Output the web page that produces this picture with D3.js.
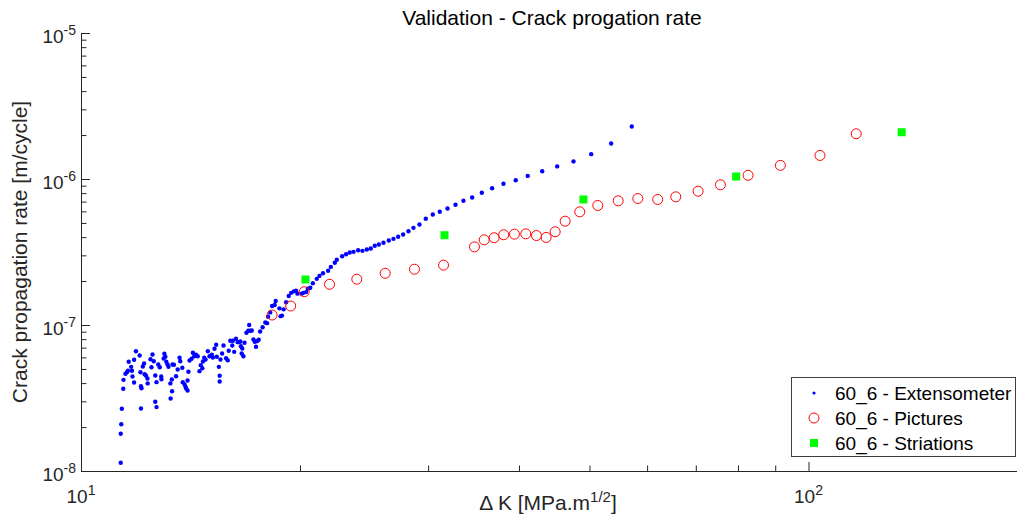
<!DOCTYPE html>
<html>
<head>
<meta charset="utf-8">
<script src="https://cdn.jsdelivr.net/npm/d3@7"></script>
<style>
    body { margin: 0; background: #fff; }
    text { font-family: "Liberation Sans", Arial, sans-serif; fill: #262626; }
</style>
</head>
<body>
<div id="graph"></div>
<script>

// 60_6 - Extensometer
let extDK = [11.34, 11.34, 11.36, 11.38, 11.43, 11.44, 11.51, 11.56, 11.60, 11.63,
    11.72, 11.75, 11.77, 11.83, 11.83, 11.90, 12.04, 12.07, 12.09, 12.11,
    12.09, 12.16, 12.21, 12.23, 12.28, 12.34, 12.35, 12.46, 12.50, 12.54,
    12.59, 12.65, 12.70, 12.65, 12.70, 12.77, 12.83, 12.89, 12.90, 12.99,
    13.02, 13.06, 13.10, 13.15, 13.19, 13.27, 13.33, 13.34, 13.28, 13.36,
    13.42, 13.51, 13.58, 13.66, 13.69, 13.78, 13.80, 13.88, 13.92, 13.95,
    14.01, 14.01, 14.05, 14.10, 14.19, 14.25, 14.31, 14.39, 14.47, 14.55,
    14.61, 14.68, 14.77, 14.83, 14.94, 14.71, 15.02, 15.13, 15.18, 15.26,
    15.34, 15.37, 15.47, 15.51, 15.51, 15.55, 15.63, 15.70, 15.83, 15.91,
    15.96, 16.04, 16.14, 16.17, 16.24, 16.33, 16.42, 16.48, 16.56, 16.59,
    16.63, 16.66, 16.72, 16.78, 16.88, 16.98, 17.03, 17.08, 17.17, 17.26,
    17.33, 17.40, 17.46, 17.55, 17.63, 17.77, 17.92, 18.02, 18.08, 18.20,
    18.31, 18.46, 18.52, 18.74, 18.81, 18.89, 18.99, 19.14, 19.30, 19.45,
    19.62, 19.75, 19.84, 20.10, 20.22, 20.39, 20.50, 20.66, 20.83, 21.09,
    21.27, 21.51, 21.86, 22.05, 22.33, 22.47, 22.85, 23.14, 23.41, 23.69,
    24.04, 24.37, 24.71, 25.02, 25.34, 25.67, 26.05, 26.49, 26.89, 27.29,
    27.72, 28.19, 28.64, 29.19, 29.78, 30.45, 31.13, 31.90, 32.72, 33.55,
    34.49, 35.56, 36.74, 38.08, 39.59, 41.12, 43.05, 45.14, 47.53, 50.27,
    53.55, 57.16];
let extRate = [1.14e-8, 1.80e-8, 2.09e-8, 2.67e-8, 3.66e-8, 4.21e-8, 4.63e-8, 4.75e-8, 4.86e-8, 5.60e-8,
    5.17e-8, 4.86e-8, 4.44e-8, 4.04e-8, 5.78e-8, 6.61e-8, 6.18e-8, 4.75e-8, 3.81e-8, 3.69e-8,
    2.68e-8, 5.20e-8, 5.45e-8, 4.60e-8, 4.51e-8, 4.30e-8, 3.98e-8, 5.83e-8, 5.14e-8, 6.28e-8,
    5.65e-8, 4.51e-8, 4.06e-8, 2.98e-8, 2.74e-8, 5.36e-8, 5.14e-8, 4.44e-8, 4.25e-8, 5.90e-8,
    6.35e-8, 6.06e-8, 5.60e-8, 5.36e-8, 5.17e-8, 3.98e-8, 4.23e-8, 3.52e-8, 3.14e-8, 5.36e-8,
    5.34e-8, 4.46e-8, 4.96e-8, 5.96e-8, 5.65e-8, 5.09e-8, 4.06e-8, 3.91e-8, 3.77e-8, 3.67e-8,
    3.56e-8, 4.17e-8, 4.78e-8, 5.71e-8, 5.87e-8, 6.45e-8, 6.11e-8, 6.25e-8, 6.11e-8, 4.83e-8,
    5.31e-8, 5.06e-8, 5.96e-8, 5.80e-8, 6.61e-8, 5.62e-8, 6.11e-8, 6.25e-8, 5.99e-8, 6.87e-8,
    7.32e-8, 6.06e-8, 5.17e-8, 4.49e-8, 4.10e-8, 5.80e-8, 6.38e-8, 7.24e-8, 5.92e-8, 5.74e-8,
    6.66e-8, 7.80e-8, 7.24e-8, 7.80e-8, 6.55e-8, 8.05e-8, 7.63e-8, 7.63e-8, 7.71e-8, 7.16e-8,
    6.38e-8, 6.90e-8, 6.11e-8, 7.55e-8, 8.84e-8, 9.13e-8, 1.00e-7, 9.13e-8, 9.17e-8, 7.96e-8,
    7.67e-8, 7.09e-8, 7.75e-8, 7.92e-8, 9.03e-8, 9.66e-8, 1.04e-7, 1.03e-7, 1.14e-7, 1.22e-7,
    1.35e-7, 1.37e-7, 1.46e-7, 1.30e-7, 1.15e-7, 1.16e-7, 1.28e-7, 1.43e-7, 1.58e-7, 1.66e-7,
    1.70e-7, 1.72e-7, 1.64e-7, 1.64e-7, 1.66e-7, 1.68e-7, 1.77e-7, 1.80e-7, 1.93e-7, 2.07e-7,
    2.17e-7, 2.26e-7, 2.35e-7, 2.50e-7, 2.67e-7, 2.80e-7, 2.96e-7, 3.05e-7, 3.14e-7, 3.17e-7,
    3.25e-7, 3.22e-7, 3.29e-7, 3.34e-7, 3.49e-7, 3.56e-7, 3.66e-7, 3.79e-7, 3.89e-7, 4.02e-7,
    4.17e-7, 4.39e-7, 4.63e-7, 4.88e-7, 5.34e-7, 5.71e-7, 5.96e-7, 6.28e-7, 6.66e-7, 7.09e-7,
    7.47e-7, 8.05e-7, 8.65e-7, 9.27e-7, 9.81e-7, 1.05e-6, 1.13e-6, 1.22e-6, 1.32e-6, 1.48e-6,
    1.75e-6, 2.29e-6];

// 60_6 - Pictures
let picDK = [18.31, 19.42, 20.27, 21.96, 23.94, 26.19, 28.73, 31.50, 34.74, 35.83,
    36.97, 38.11, 39.43, 40.87, 42.27, 43.59, 44.85, 46.29, 48.48, 51.33,
    54.75, 58.26, 62.05, 65.70, 70.51, 75.67, 82.59, 91.48, 103.7, 116.3];
let picRate = [1.17e-7, 1.35e-7, 1.69e-7, 1.90e-7, 2.06e-7, 2.26e-7, 2.41e-7, 2.57e-7, 3.43e-7, 3.83e-7,
    3.96e-7, 4.15e-7, 4.19e-7, 4.21e-7, 4.10e-7, 3.98e-7, 4.35e-7, 5.14e-7, 5.96e-7, 6.59e-7,
    7.09e-7, 7.35e-7, 7.24e-7, 7.55e-7, 8.25e-7, 9.13e-7, 1.06e-6, 1.24e-6, 1.45e-6, 2.04e-6];

// 60_6 - Striations
let strDK = [20.35, 31.60, 49.05, 79.53, 134.3];
let strRate = [2.05e-7, 4.12e-7, 7.24e-7, 1.04e-6, 2.09e-6];

let legendLabels = ["60_6 - Extensometer", "60_6 - Pictures", "60_6 - Striations"];
let xMajor = [10, 100];
let yMajor = [1e-8, 1e-7, 1e-6, 1e-5];


let width = 1017,
    height = 518;
let margin = { top: 33, left: 81 };
let plotH = 438;
let decadeX = 727.5;

let svg = d3.select("#graph")
    .append("svg")
    .attr("width", width)
    .attr("height", height);

let g = svg.append("g")
    .attr("transform", `translate(${margin.left}, ${margin.top})`);

let x = d3.scaleLog()
    .domain([10, 200])
    .range([0, decadeX * Math.log10(20)]);

let y = d3.scaleLog()
    .domain([1e-8, 1e-5])
    .range([plotH, 0]);

function isMajor(v) {
    let l = Math.log10(v);
    return Math.abs(l - Math.round(l)) < 1e-9;
}

let xMinor = x.ticks().filter(function (v) { return !isMajor(v) });
let yMinor = y.ticks().filter(function (v) { return !isMajor(v) });

// ticks point inward, like matlab
let xAxisMinor = g.append("g")
    .attr("transform", `translate(0, ${plotH})`)
    .call(d3.axisBottom(x).tickValues(xMinor).tickSizeInner(-5.5).tickSizeOuter(0).tickFormat(""));
let xAxisMajor = g.append("g")
    .attr("transform", `translate(0, ${plotH})`)
    .call(d3.axisBottom(x).tickValues(xMajor).tickSizeInner(-9).tickSizeOuter(0).tickFormat(""));
let yAxisMinor = g.append("g")
    .call(d3.axisLeft(y).tickValues(yMinor).tickSizeInner(-5.5).tickSizeOuter(0).tickFormat(""));
let yAxisMajor = g.append("g")
    .call(d3.axisLeft(y).tickValues(yMajor).tickSizeInner(-9).tickSizeOuter(0).tickFormat(""));

[xAxisMinor, xAxisMajor, yAxisMinor, yAxisMajor].forEach(function (a) {
    a.attr("color", "#262626");
});

// tick labels 10^n
let xLab = g.selectAll(".xlab").data(xMajor).enter()
    .append("text")
    .attr("class", "xlab")
    .attr("x", function (d) { return x(d) })
    .attr("y", plotH + 32)
    .style("text-anchor", "middle")
    .style("font-size", "19px");
xLab.append("tspan").text("10");
xLab.append("tspan")
    .attr("dy", -8)
    .style("font-size", "14px")
    .text(function (d) { return Math.round(Math.log10(d)) });

let yLab = g.selectAll(".ylab").data(yMajor).enter()
    .append("text")
    .attr("class", "ylab")
    .attr("x", -5)
    .attr("y", function (d) { return y(d) + 10 })
    .style("text-anchor", "end")
    .style("font-size", "19px");
yLab.append("tspan").text("10");
yLab.append("tspan")
    .attr("dy", -8)
    .style("font-size", "14px")
    .text(function (d) { return Math.round(Math.log10(d)) });


// points
let ext = extDK.map(function (d, i) { return { dk: d, rate: extRate[i] } });
let pic = picDK.map(function (d, i) { return { dk: d, rate: picRate[i] } });
let str = strDK.map(function (d, i) { return { dk: d, rate: strRate[i] } });

g.selectAll(".ext").data(ext).enter()
    .append("circle")
    .attr("class", "ext")
    .attr("cx", function (d) { return x(d.dk) })
    .attr("cy", function (d) { return y(d.rate) })
    .attr("r", 2.2)
    .attr("fill", "#0000ff");

g.selectAll(".pic").data(pic).enter()
    .append("circle")
    .attr("class", "pic")
    .attr("cx", function (d) { return x(d.dk) })
    .attr("cy", function (d) { return y(d.rate) })
    .attr("r", 5)
    .attr("fill", "none")
    .attr("stroke", "#ff0000")
    .attr("stroke-width", 1);

g.selectAll(".str").data(str).enter()
    .append("rect")
    .attr("class", "str")
    .attr("x", function (d) { return x(d.dk) - 4 })
    .attr("y", function (d) { return y(d.rate) - 4 })
    .attr("width", 8)
    .attr("height", 8)
    .attr("fill", "#00ff00");


// labels
svg.append("text")
    .attr("x", 552)
    .attr("y", 25)
    .style("text-anchor", "middle")
    .style("font-size", "21px")
    .style("fill", "#000")
    .text("Validation - Crack progation rate");

svg.append("text")
    .attr("transform", `translate(27, ${margin.top + plotH / 2}) rotate(-90)`)
    .style("text-anchor", "middle")
    .style("font-size", "21px")
    .text("Crack propagation rate [m/cycle]");

let xTitle = svg.append("text")
    .attr("x", 548)
    .attr("y", 510)
    .style("text-anchor", "middle")
    .style("font-size", "21px");
xTitle.append("tspan").text("\u0394 K [MPa.m");
xTitle.append("tspan").attr("dy", -8).style("font-size", "15px").text("1/2");
xTitle.append("tspan").attr("dy", 8).text("]");


// legend
let legend = svg.append("g")
    .attr("transform", "translate(791.5, 377.5)");

legend.append("rect")
    .attr("width", 224)
    .attr("height", 79)
    .attr("fill", "#fff")
    .attr("stroke", "#404040")
    .attr("stroke-width", 1);

let rows = legend.selectAll(".row").data(legendLabels).enter()
    .append("g")
    .attr("class", "row")
    .attr("transform", function (d, i) { return `translate(0, ${15.5 + i * 25})` });

rows.append("text")
    .attr("x", 43.5)
    .attr("y", 6.5)
    .style("font-size", "19px")
    .style("fill", "#000")
    .text(function (d) { return d });

rows.filter(function (d, i) { return i === 0 })
    .append("circle").attr("cx", 22.5).attr("r", 1.6).attr("fill", "#0000ff");
rows.filter(function (d, i) { return i === 1 })
    .append("circle").attr("cx", 22.5).attr("r", 5).attr("fill", "none")
    .attr("stroke", "#ff0000").attr("stroke-width", 1);
rows.filter(function (d, i) { return i === 2 })
    .append("rect").attr("x", 18.5).attr("y", -4).attr("width", 8).attr("height", 8)
    .attr("fill", "#00ff00");

</script>
</body>
</html>
